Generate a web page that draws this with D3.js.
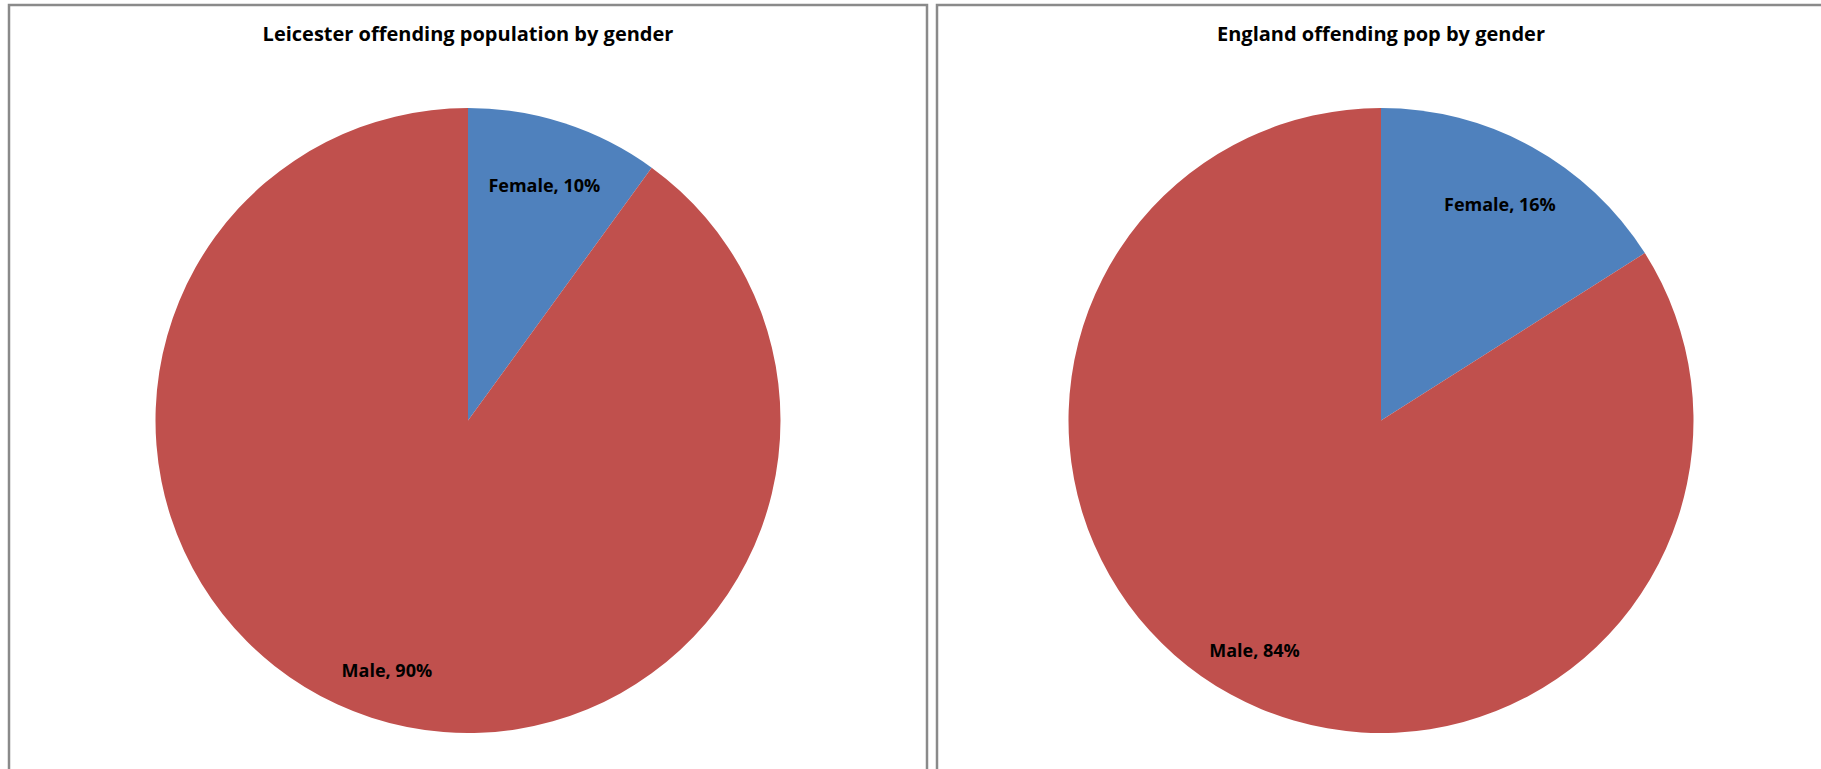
<!DOCTYPE html>
<html>
<head>
<meta charset="utf-8">
<script src="https://cdn.jsdelivr.net/npm/d3@7"></script>
<style>
  html, body { margin: 0; padding: 0; background: #ffffff; }
  svg { display: block; }
  text { font-family: "Open Sans", "Liberation Sans", sans-serif; font-weight: 700; fill: #000; }
</style>
</head>
<body>
<svg id="chart" width="1821" height="769"></svg>
<script>
// Gender split of the offending population
const categories = ["Female", "Male"];
const leicesterShare = [10, 90];
const englandShare = [16, 84];
const chartTitles = ["Leicester offending population by gender", "England offending pop by gender"];
const sliceColors = ["#4F81BD", "#C0504D"];

const svg = d3.select("#chart");
const W = 1821, H = 769;

const panels = [
  { title: chartTitles[0], values: leicesterShare, x0: 9, x1: 927, cx: 468 },
  { title: chartTitles[1], values: englandShare, x0: 937, x1: 1850, cx: 1381 }
];

const radius = 312.5;
const cy = 420.5;
const color = d3.scaleOrdinal().domain(categories).range(sliceColors);

const pie = d3.pie().sort(null).value(d => d.value);
const arc = d3.arc().innerRadius(0).outerRadius(radius);

panels.forEach(p => {
  const g = svg.append("g");
  // panel frame
  g.append("rect")
    .attr("x", p.x0).attr("y", 5)
    .attr("width", p.x1 - p.x0).attr("height", H + 40)
    .attr("fill", "none").attr("stroke", "#8a8a8a").attr("stroke-width", 2.5);

  g.append("text")
    .attr("x", p.cx).attr("y", 41)
    .attr("text-anchor", "middle")
    .style("font-size", "20px")
    .text(p.title);

  const data = categories.map((c, i) => ({ category: c, value: p.values[i] }));
  const arcs = pie(data);
  const pg = g.append("g").attr("transform", `translate(${p.cx},${cy})`);

  pg.selectAll("path").data(arcs).join("path")
    .attr("d", arc)
    .attr("fill", d => color(d.data.category));

  // data labels sit inside each slice, a little further out on the lower half
  pg.selectAll("text").data(arcs).join("text")
    .attr("text-anchor", "middle")
    .attr("dy", "0.36em")
    .style("font-size", "18px")
    .attr("transform", d => {
      const mid = (d.startAngle + d.endAngle) / 2;
      const lower = mid > Math.PI / 2 && mid < 3 * Math.PI / 2;
      const r = radius * (lower ? 0.84 : 0.79);
      return `translate(${Math.sin(mid) * r},${-Math.cos(mid) * r})`;
    })
    .text(d => `${d.data.category}, ${d.data.value}%`);
});
</script>
</body>
</html>
